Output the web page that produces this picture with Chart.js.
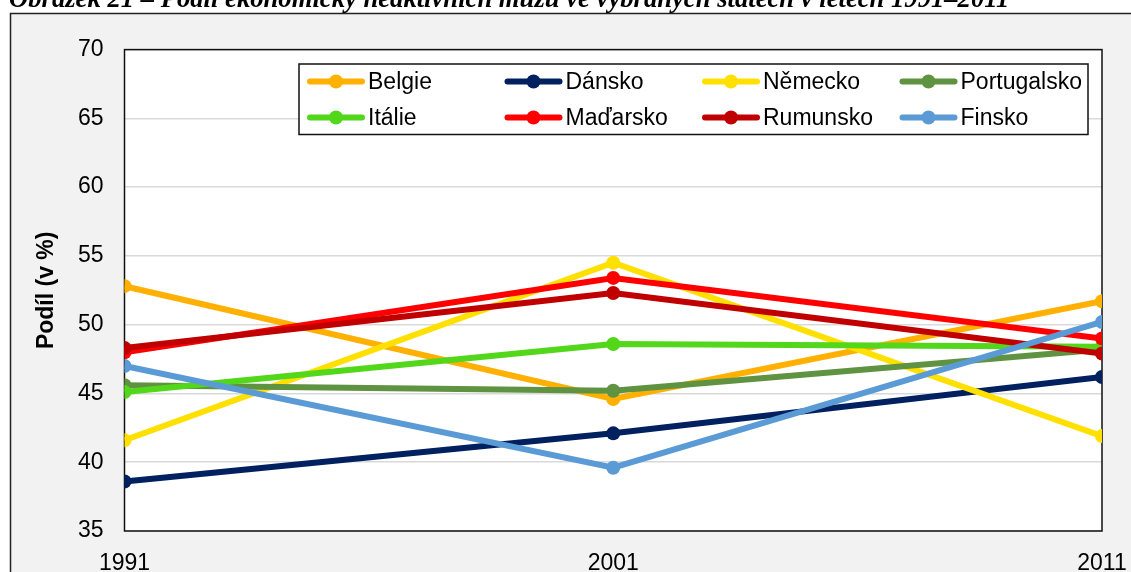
<!DOCTYPE html>
<html lang="cs">
<head>
<meta charset="utf-8">
<title>Podíl ekonomicky neaktivních mužů</title>
<script src="https://cdn.jsdelivr.net/npm/chart.js@4.4.1/dist/chart.umd.min.js"></script>
<style>
  html, body { margin: 0; padding: 0; background: #fff; }
  canvas { display: block; }
</style>
</head>
<body>
<canvas id="chart" width="1131" height="572"></canvas>
<script>
// Data
const titleText = "Obrázek 21 – Podíl ekonomicky neaktivních mužů ve vybraných státech v letech 1991–2011";
const years = [1991, 2001, 2011];
const countries = ["Belgie", "Dánsko", "Německo", "Portugalsko", "Itálie", "Maďarsko", "Rumunsko", "Finsko"];
const belgie = [52.8, 44.6, 51.7];
const dansko = [38.6, 42.1, 46.2];
const nemecko = [41.6, 54.5, 41.9];
const portugalsko = [45.6, 45.2, 48.2];
const italie = [45.1, 48.6, 48.4];
const madarsko = [48.0, 53.4, 49.0];
const rumunsko = [48.3, 52.3, 47.9];
const finsko = [47.0, 39.6, 50.2];
const seriesValues = [belgie, dansko, nemecko, portugalsko, italie, madarsko, rumunsko, finsko];
const colors = ["#FFB000", "#002060", "#FFE000", "#5F9341", "#53D71B", "#FF0000", "#C00000", "#5B9BD5"];

const FONT = "'Liberation Sans', Arial, sans-serif";

// Page frame, title, plot box and legend
const framePlugin = {
  id: "frame",
  beforeDraw(chart) {
    const { ctx, width, height, chartArea: a } = chart;
    ctx.save();
    ctx.fillStyle = "#ffffff";
    ctx.fillRect(0, 0, width, height);

    // title, cut at the top
    let size = 22;
    ctx.font = `italic bold ${size}px 'Liberation Serif', 'Times New Roman', serif`;
    size = size * 1001 / ctx.measureText(titleText).width;
    ctx.font = `italic bold ${size}px 'Liberation Serif', 'Times New Roman', serif`;
    ctx.fillStyle = "#000";
    ctx.textBaseline = "alphabetic";
    ctx.fillText(titleText, 9, 7);

    // grey outer frame
    ctx.fillStyle = "#f2f2f2";
    ctx.fillRect(10.5, 13.5, width, height);
    ctx.strokeStyle = "#222";
    ctx.lineWidth = 1.5;
    ctx.strokeRect(10.5, 13.5, width + 10, height + 10);

    // white plot area
    ctx.fillStyle = "#ffffff";
    ctx.fillRect(a.left, a.top, a.right - a.left, a.bottom - a.top);
    ctx.restore();
  },
  beforeDatasetsDraw(chart) {
    const { ctx, chartArea: a } = chart;
    ctx.save();
    ctx.strokeStyle = "#111";
    ctx.lineWidth = 1.5;
    ctx.strokeRect(a.left, a.top, a.right - a.left, a.bottom - a.top);
    ctx.restore();
  },
  afterDraw(chart) {
    const { ctx } = chart;
    const box = { x: 299, y: 64, w: 789, h: 70.5 };
    ctx.save();
    ctx.fillStyle = "#fff";
    ctx.fillRect(box.x, box.y, box.w, box.h);
    ctx.strokeStyle = "#111";
    ctx.lineWidth = 1.5;
    ctx.strokeRect(box.x, box.y, box.w, box.h);

    ctx.font = `23px ${FONT}`;
    ctx.textBaseline = "middle";
    ctx.textAlign = "left";
    chart.data.datasets.forEach((ds, i) => {
      const col = i % 4;
      const row = Math.floor(i / 4);
      const x0 = 308 + col * 197.5;
      const y = 81.5 + row * 36;
      ctx.strokeStyle = ds.borderColor;
      ctx.lineWidth = 6;
      ctx.lineCap = "round";
      ctx.beginPath();
      ctx.moveTo(x0 + 2, y);
      ctx.lineTo(x0 + 54, y);
      ctx.stroke();
      ctx.fillStyle = ds.borderColor;
      ctx.beginPath();
      ctx.arc(x0 + 28, y, 7, 0, Math.PI * 2);
      ctx.fill();
      ctx.fillStyle = "#000";
      ctx.fillText(ds.label, x0 + 60, y + 1);
    });
    ctx.restore();
  },
};

const datasets = countries.map((name, i) => ({
  label: name,
  data: years.map((yr, j) => ({ x: yr, y: seriesValues[i][j] })),
  borderColor: colors[i],
  backgroundColor: colors[i],
  pointBackgroundColor: colors[i],
  pointBorderColor: colors[i],
  borderWidth: 6,
  pointRadius: 7,
  pointBorderWidth: 0,
  tension: 0,
  order: countries.length - i, // later series on top, as in the original
}));

new Chart(document.getElementById("chart"), {
  type: "line",
  data: { datasets },
  options: {
    responsive: false,
    animation: false,
    layout: { padding: { top: 49.6, right: 29, left: 0, bottom: 0 } },
    plugins: {
      legend: { display: false },
      tooltip: { enabled: false },
    },
    scales: {
      x: {
        type: "linear",
        min: 1991,
        max: 2011,
        afterFit: (scale) => {
          scale.height = 41;
          scale.paddingLeft = 0;
          scale.paddingRight = 0;
        },
        afterBuildTicks: (scale) => { scale.ticks = years.map((v) => ({ value: v })); },
        ticks: {
          callback: (v) => String(v),
          color: "#000",
          font: { family: FONT, size: 23 },
          padding: 11,
          maxRotation: 0,
        },
        grid: { display: false },
        border: { display: false },
      },
      y: {
        min: 35,
        max: 70,
        afterFit: (scale) => { scale.width = 124.5; },
        ticks: {
          stepSize: 5,
          color: "#000",
          font: { family: FONT, size: 23 },
          padding: 21,
        },
        grid: { color: "#d9d9d9", lineWidth: 1.5, drawTicks: false },
        border: { display: false },
        title: {
          display: true,
          text: "Podíl (v %)",
          color: "#000",
          font: { family: FONT, size: 23, weight: "bold" },
          padding: { top: 33, bottom: 0 },
        },
      },
    },
  },
  plugins: [framePlugin],
});
</script>
</body>
</html>
